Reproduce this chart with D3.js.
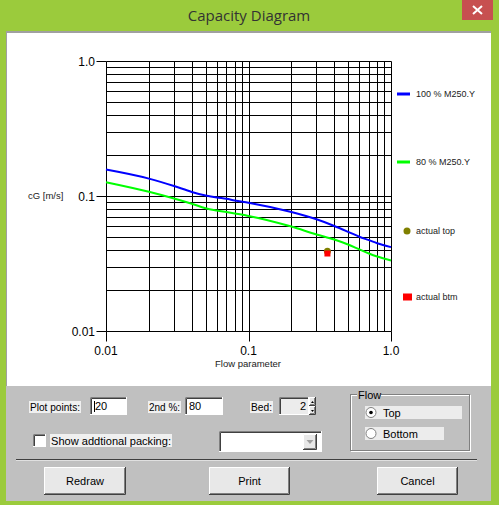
<!DOCTYPE html>
<html>
<head>
<meta charset="utf-8">
<script src="https://cdn.jsdelivr.net/npm/d3@7"></script>
<style>
  body { margin: 0; background: #9bcb3c; }
  svg { display: block; }
  text { font-family: Arial, "Liberation Sans", sans-serif; }
</style>
</head>
<body>
<svg width="499" height="505"></svg>
<script>
// flow parameter values
var flowX = [0.01, 0.02, 0.03, 0.04, 0.05, 0.06, 0.07, 0.08, 0.1, 0.2, 0.3, 0.4, 0.5, 0.6, 0.7, 0.8, 1.0];
// capacity at 100 % M250.Y
var cg100 = [0.157, 0.1345, 0.1186, 0.1072, 0.101, 0.0975, 0.0953, 0.0926, 0.0891, 0.0760, 0.0672, 0.0600, 0.0543, 0.0499, 0.0471, 0.0447, 0.0418];
// capacity at 80 % M250.Y
var cg80 = [0.1265, 0.1074, 0.0958, 0.0876, 0.0812, 0.0781, 0.0760, 0.0742, 0.0712, 0.0594, 0.0519, 0.0476, 0.0437, 0.0402, 0.0375, 0.0356, 0.0333];
// actual operating points
var actualTop = [0.358, 0.0390];
var actualBtm = [0.358, 0.0375];
// axis labels
var xTickVals = [0.01, 0.1, 1.0],
    xTickText = ["0.01", "0.1", "1.0"];
var yTickVals = [1.0, 0.1, 0.01],
    yTickText = ["1.0", "0.1", "0.01"];
var legendNames = ["100 % M250.Y", "80 % M250.Y", "actual top", "actual btm"];

var svg = d3.select("svg");

// ---- window frame ----
svg.append("rect").attr("width", 499).attr("height", 505).attr("fill", "#9bcb3c");
svg.append("rect").attr("x", 462).attr("y", 0).attr("width", 31).attr("height", 20).attr("fill", "#c75050");
svg.append("path").attr("d", "M473,6L482,14M482,6L473,14").attr("stroke", "#fff").attr("stroke-width", 2);
svg.append("text").attr("x", 249).attr("y", 21).attr("text-anchor", "middle")
    .style("font-family", "'Open Sans', 'Noto Sans', sans-serif").style("font-size", "15px")
    .attr("fill", "#333").text("Capacity Diagram");

// client area
svg.append("rect").attr("x", 6).attr("y", 31).attr("width", 485).attr("height", 470).attr("fill", "#c0c0c0");
svg.append("rect").attr("x", 6).attr("y", 31).attr("width", 485).attr("height", 355).attr("fill", "#a0a0a0");
svg.append("rect").attr("x", 7).attr("y", 33).attr("width", 484).attr("height", 353).attr("fill", "#fff");

// ---- chart ----
var x = d3.scaleLog().domain([0.01, 1]).range([106, 391]);
var y = d3.scaleLog().domain([0.01, 1]).range([331, 61]);
var px = function (v) { return Math.round(x(v)) + 0.5; };
var py = function (v) { return Math.round(y(v)) + 0.5; };

var g = svg.append("g");
g.selectAll(".vgrid").data(x.ticks()).enter().append("line")
    .attr("x1", px).attr("x2", px).attr("y1", py(1)).attr("y2", py(0.01))
    .attr("stroke", "#000");
g.selectAll(".hgrid").data(y.ticks()).enter().append("line")
    .attr("x1", px(0.01)).attr("x2", px(1)).attr("y1", py).attr("y2", py)
    .attr("stroke", "#000");

// decade ticks
g.selectAll(".xt").data(xTickVals).enter().append("line")
    .attr("x1", px).attr("x2", px).attr("y1", py(0.01)).attr("y2", py(0.01) + 10)
    .attr("stroke", "#000");
g.selectAll(".yt").data(yTickVals).enter().append("line")
    .attr("x1", px(0.01) - 10).attr("x2", px(0.01)).attr("y1", py).attr("y2", py)
    .attr("stroke", "#000");
g.selectAll(".xl").data(xTickVals).enter().append("text")
    .attr("x", function (d) { return x(d); }).attr("y", 355)
    .attr("text-anchor", "middle").style("font-size", "12px")
    .text(function (d, i) { return xTickText[i]; });
g.selectAll(".yl").data(yTickVals).enter().append("text")
    .attr("x", 95).attr("y", function (d) { return y(d) + 4.5; })
    .attr("text-anchor", "end").style("font-size", "12px")
    .text(function (d, i) { return yTickText[i]; });

g.append("text").attr("x", 28).attr("y", y(0.1) + 3).style("font-size", "9.5px").attr("fill", "#222").text("cG [m/s]");
g.append("text").attr("x", 248).attr("y", 367).attr("text-anchor", "middle").style("font-size", "9.5px").attr("fill", "#222").text("Flow parameter");

var line = d3.line()
    .x(function (d, i) { return x(flowX[i]); })
    .y(function (d) { return y(d); })
    .curve(d3.curveMonotoneX);
g.append("path").datum(cg100).attr("d", line)
    .attr("fill", "none").attr("stroke", "#0000ff").attr("stroke-width", 2);
g.append("path").datum(cg80).attr("d", line)
    .attr("fill", "none").attr("stroke", "#00ff00").attr("stroke-width", 2);

g.append("circle").attr("cx", x(actualTop[0])).attr("cy", y(actualTop[1])).attr("r", 3.5).attr("fill", "#808000");
g.append("rect").attr("x", x(actualBtm[0]) - 3).attr("y", y(actualBtm[1]) - 3).attr("width", 6).attr("height", 6).attr("fill", "#ff0000");

// legend
var legY = [94, 162, 231, 297];
var leg = svg.append("g");
leg.append("line").attr("x1", 397).attr("x2", 410).attr("y1", legY[0]).attr("y2", legY[0]).attr("stroke", "#0000ff").attr("stroke-width", 3);
leg.append("line").attr("x1", 397).attr("x2", 410).attr("y1", legY[1]).attr("y2", legY[1]).attr("stroke", "#00ff00").attr("stroke-width", 3);
leg.append("circle").attr("cx", 407).attr("cy", legY[2]).attr("r", 3.5).attr("fill", "#808000");
leg.append("rect").attr("x", 403).attr("y", legY[3] - 3.5).attr("width", 9).attr("height", 7).attr("fill", "#ff0000");
leg.selectAll("text").data(legendNames).enter().append("text")
    .attr("x", 416).attr("y", function (d, i) { return legY[i] + 3; })
    .style("font-size", "9px").attr("fill", "#222").text(function (d) { return d; });

// ---- dialog controls ----
var ui = svg.append("g").style("font-size", "11px");

function label(x0, y0, w, h, txt) {
  ui.append("rect").attr("x", x0).attr("y", y0).attr("width", w).attr("height", h).attr("fill", "#f0f0f0");
  ui.append("text").attr("x", x0 + 1).attr("y", y0 + h - 2.5)
      .attr("textLength", w - 2).attr("lengthAdjust", "spacingAndGlyphs").text(txt);
}
function sunken(x0, y0, w, h, fill) {
  ui.append("rect").attr("x", x0).attr("y", y0).attr("width", w).attr("height", h).attr("fill", fill);
  ui.append("path").attr("d", "M" + (x0 + 0.5) + "," + (y0 + h) + "V" + (y0 + 0.5) + "H" + (x0 + w))
      .attr("stroke", "#808080").attr("fill", "none");
  ui.append("path").attr("d", "M" + (x0 + 1.5) + "," + (y0 + h - 1) + "V" + (y0 + 1.5) + "H" + (x0 + w - 1))
      .attr("stroke", "#404040").attr("fill", "none");
  ui.append("path").attr("d", "M" + x0 + "," + (y0 + h - 0.5) + "H" + (x0 + w - 0.5) + "V" + y0)
      .attr("stroke", "#fff").attr("fill", "none");
}
function button(x0, y0, w, h, txt) {
  ui.append("rect").attr("x", x0).attr("y", y0).attr("width", w).attr("height", h).attr("fill", "#e8e8e8");
  ui.append("path").attr("d", "M" + x0 + "," + (y0 + h - 0.5) + "H" + (x0 + w - 0.5) + "V" + y0)
      .attr("stroke", "#404040").attr("fill", "none");
  ui.append("path").attr("d", "M" + (x0 + 1) + "," + (y0 + h - 1.5) + "H" + (x0 + w - 1.5) + "V" + (y0 + 1))
      .attr("stroke", "#808080").attr("fill", "none");
  ui.append("path").attr("d", "M" + (x0 + 0.5) + "," + (y0 + h - 1) + "V" + (y0 + 0.5) + "H" + (x0 + w - 1))
      .attr("stroke", "#fff").attr("fill", "none");
  if (txt) ui.append("text").attr("x", x0 + w / 2).attr("y", y0 + h / 2 + 4).attr("text-anchor", "middle").text(txt);
}

label(29, 401, 52, 12, "Plot points:");
sunken(90, 397, 37, 18, "#fff");
ui.append("line").attr("x1", 94.5).attr("x2", 94.5).attr("y1", 401).attr("y2", 412).attr("stroke", "#000");
ui.append("text").attr("x", 95).attr("y", 410).text("20");

label(148, 401, 33, 12, "2nd %:");
sunken(185, 397, 38, 18, "#fff");
ui.append("text").attr("x", 189).attr("y", 410).text("80");

label(250, 401, 23, 12, "Bed:");
sunken(279, 397, 30, 18, "#ececec");
ui.append("text").attr("x", 306).attr("y", 410).attr("text-anchor", "end").text("2");
button(309, 397, 7, 9, null);
button(309, 406, 7, 9, null);
ui.append("path").attr("d", "M311,403L312.5,401L314,403Z").attr("fill", "#000");
ui.append("path").attr("d", "M311,410L312.5,412L314,410Z").attr("fill", "#000");

// group box
ui.append("rect").attr("x", 351.5).attr("y", 395.5).attr("width", 119).attr("height", 56).attr("fill", "none").attr("stroke", "#fff");
ui.append("rect").attr("x", 350.5).attr("y", 394.5).attr("width", 119).attr("height", 56).attr("fill", "none").attr("stroke", "#808080");
ui.append("rect").attr("x", 357).attr("y", 390).attr("width", 24).attr("height", 10).attr("fill", "#c0c0c0");
ui.append("text").attr("x", 358).attr("y", 399).text("Flow");

ui.append("rect").attr("x", 365).attr("y", 406).attr("width", 97).attr("height", 13).attr("fill", "#ececec");
ui.append("rect").attr("x", 365).attr("y", 427).attr("width", 79).attr("height", 13).attr("fill", "#ececec");
[412.5, 433.5].forEach(function (cy, i) {
  ui.append("circle").attr("cx", 371).attr("cy", cy).attr("r", 5).attr("fill", "#fff").attr("stroke", "#808080");
  if (i === 0) ui.append("circle").attr("cx", 371).attr("cy", cy).attr("r", 1.8).attr("fill", "#000");
});
ui.append("text").attr("x", 383).attr("y", 417).text("Top");
ui.append("text").attr("x", 383).attr("y", 438).text("Bottom");

// checkbox and combo
sunken(33, 434, 13, 13, "#fff");
label(50, 434, 122, 13, "Show addtional packing:");
sunken(219, 431, 103, 21, "#fff");
button(303, 434, 14, 16, null);
ui.append("path").attr("d", "M306.5,440L313.5,440L310,444Z").attr("fill", "#a0a0a0");

// separator
ui.append("line").attr("x1", 16).attr("x2", 477).attr("y1", 459.5).attr("y2", 459.5).attr("stroke", "#404040");
ui.append("line").attr("x1", 16).attr("x2", 477).attr("y1", 460.5).attr("y2", 460.5).attr("stroke", "#e0e0e0");

button(44, 467, 82, 28, "Redraw");
button(209, 467, 81, 28, "Print");
button(377, 467, 81, 28, "Cancel");
</script>
</body>
</html>
